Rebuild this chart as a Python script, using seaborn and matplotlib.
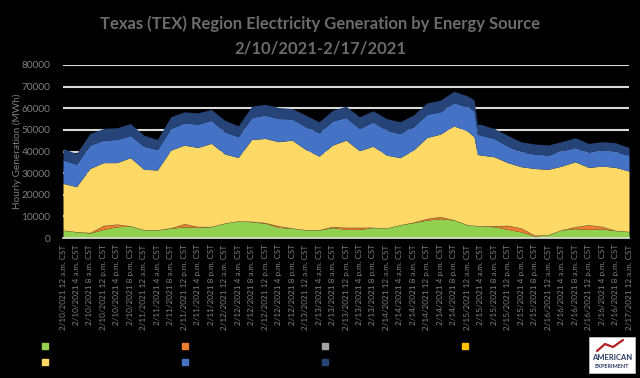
import matplotlib
matplotlib.use("Agg")
import matplotlib.pyplot as plt
from matplotlib.lines import Line2D
from matplotlib.patches import Rectangle
import seaborn as sns
import pandas as pd

# ---------------- data (MWh) ----------------
hours = [0, 4, 8, 12, 16, 20, 24, 28, 32, 36, 40, 44, 48, 52, 56, 60, 64, 68,
         72, 76, 80, 84, 88, 92, 96, 100, 104, 108, 112, 116, 120, 122, 123,
         124, 128, 132, 136, 140, 144, 148, 152, 156, 160, 164, 168]

wind = [3500, 2800, 2300, 4000, 5200, 5500, 3700, 3700, 4500, 5200, 4900, 5200,
        6800, 7800, 7500, 6800, 4900, 4500, 3700, 3700, 4800, 4000, 4000, 4800,
        4500, 6000, 7100, 8300, 8900, 8300, 6000, 5700, 5500, 5500, 5200, 4000,
        2800, 900, 1400, 3700, 4300, 4000, 4200, 3400, 2900]
solar = [0, 0, 100, 1700, 1100, 0, 0, 0, 100, 1300, 300, 0,
         0, 0, 100, 200, 600, 0, 0, 0, 400, 800, 800, 0,
         0, 0, 100, 600, 900, 0, 0, 0, 0, 0, 400, 1700,
         1700, 200, 0, 0, 800, 2000, 1000, 0, 0]
hydro = [100, 100, 100, 100, 100, 100, 100, 100, 100, 100, 100, 100,
         100, 100, 100, 100, 100, 100, 100, 100, 100, 100, 100, 100,
         100, 100, 100, 100, 100, 100, 100, 100, 100, 100, 100, 100,
         100, 100, 100, 100, 100, 100, 100, 100, 100]
other = [50, 50, 50, 50, 50, 50, 50, 50, 50, 50, 50, 50,
         50, 50, 50, 50, 50, 50, 50, 50, 50, 50, 50, 50,
         50, 50, 50, 50, 50, 50, 50, 50, 50, 50, 50, 50,
         50, 50, 50, 50, 50, 50, 50, 50, 50]
natural_gas = [21600, 20800, 29600, 29000, 28400, 31500, 27900, 27600, 35900,
               36300, 36500, 38400, 31900, 29300, 37800, 38900, 38900, 40600,
               37100, 34000, 37600, 40300, 35400, 37500, 33700, 31000, 33300,
               37400, 38100, 43400, 43300, 41000, 33000, 32700, 31800, 29000,
               28300, 30900, 30200, 29400, 30000, 26500, 27900, 29100, 27900]
coal = [10800, 10400, 10800, 10400, 10700, 10300, 10700, 9500, 10000, 10300,
        10800, 10700, 10300, 9600, 10200, 10800, 10700, 9800, 10500, 10800,
        11200, 10500, 10300, 11300, 11500, 11200, 10800, 10800, 10300, 10800,
        11200, 12000, 9400, 9200, 8500, 7600, 6900, 6700, 6600, 7100, 6600,
        6800, 7400, 7200, 7400]
nuclear = [5400, 4900, 5400, 5400, 5400, 5500, 5100, 4600, 5400, 5100, 5200,
           5000, 5300, 5000, 5200, 5000, 5100, 4800, 5400, 5100, 4900, 5200,
           5400, 5100, 5400, 5400, 5400, 5200, 5400, 5200, 5100, 5000, 4600,
           5000, 4600, 5000, 4600, 4600, 4700, 4200, 4500, 4300, 3900, 4200, 3500]

sources = ["wind", "solar", "hydro", "other", "natural gas", "coal", "nuclear"]
colors = ["#92D050", "#ED7D31", "#A5A5A5", "#FFC000", "#FFD966", "#4472C4", "#264478"]

day_labels = ["2/10/2021", "2/11/2021", "2/12/2021", "2/13/2021",
              "2/14/2021", "2/15/2021", "2/16/2021", "2/17/2021"]
time_labels = ["12 a.m.", "4 a.m.", "8 a.m.", "12 p.m.", "4 p.m.", "8 p.m."]

df = pd.DataFrame({"hour": hours, "wind": wind, "solar": solar, "hydro": hydro,
                   "other": other, "natural gas": natural_gas, "coal": coal,
                   "nuclear": nuclear})

# ---------------- style ----------------
sns.set_theme(style="white")
plt.rcParams["font.family"] = ["Lato", "DejaVu Sans"]
palette = sns.color_palette(colors)

fig = plt.figure(figsize=(6.4, 3.78), dpi=100, facecolor="black")
ax = fig.add_axes([63 / 640, 1 - 238 / 378, (629 - 63) / 640, (238 - 65) / 378])
ax.set_facecolor("black")

ax.stackplot(df["hour"], *[df[s] for s in sources], colors=palette,
             labels=sources, linewidth=0, zorder=3)

ax.set_xlim(0, 168)
ax.set_ylim(0, 80000)
ax.set_yticks(range(0, 80001, 10000))
ax.set_yticklabels([str(v) for v in range(0, 80001, 10000)])
ax.yaxis.grid(True, color="#d9d9d9", lw=1.5, zorder=1)
ax.set_axisbelow(True)

xt = list(range(0, 169, 4))
xl = []
for d in day_labels:
    for t in time_labels:
        xl.append(f"{d} {t} CST")
xl = xl[:len(xt)]
ax.set_xticks(xt)
ax.set_xticklabels(xl, rotation=90, fontsize=5.9, color="#7f7f7f")
ax.set_xticks(range(0, 169), minor=True)
ax.tick_params(axis="x", which="both", length=2.5, width=0.8, color="white",
               direction="out", pad=2)
ax.tick_params(axis="y", length=0, labelsize=7.3, labelcolor="#7f7f7f", pad=9)

sns.despine(ax=ax, left=True, top=True, right=True)
ax.spines["bottom"].set_color("#d9d9d9")
ax.spines["bottom"].set_linewidth(1.2)
ax.spines["bottom"].set_zorder(4)

ax.set_ylabel("Hourly Generation (MWh)", fontsize=7.2, color="#7f7f7f")
ax.yaxis.set_label_coords((22 - 63) / 566, 0.5)

fig.text(0.5, 1 - 24 / 378, "Texas (TEX) Region Electricity Generation by Energy Source",
         ha="center", va="center", fontsize=12, fontweight="bold", color="#6b6b6b")
fig.text(0.5, 1 - 48 / 378, "2/10/2021-2/17/2021",
         ha="center", va="center", fontsize=12, fontweight="bold", color="#6b6b6b")

# ---------------- legend (text is black on black, as in the original) ----------------
def handle(c):
    return Line2D([], [], marker="s", linestyle="none", markersize=5,
                  markerfacecolor=c, markeredgecolor=c)

cols = [[0, 4], [1, 5], [2, 6], [3]]
xpos = [47, 187, 327, 467]
for col, x in zip(cols, xpos):
    fig.legend([handle(colors[i]) for i in col], [sources[i] for i in col],
               loc="upper left", bbox_to_anchor=((x - 7) / 640, 1 - 342 / 378),
               frameon=False, fontsize=7, labelcolor="black",
               handlelength=1.0, handletextpad=0.4, labelspacing=0.75,
               borderpad=0, borderaxespad=0)

# ---------------- logo ----------------
fig.patches.append(Rectangle((589 / 640, 1 - 373 / 378), 46 / 640, 36 / 378,
                             transform=fig.transFigure, facecolor="white",
                             edgecolor="#cccccc", lw=0.5))
fig.add_artist(Line2D([597 / 640, 605 / 640, 613 / 640, 623 / 640],
                      [1 - 351 / 378, 1 - 344 / 378, 1 - 347 / 378, 1 - 340 / 378],
                      transform=fig.transFigure, color="#b22222", lw=1.6))
fig.text(612 / 640, 1 - 358 / 378, "AMERICAN", ha="center", va="center",
         fontsize=5.5, color="#2b3a67", fontweight="bold")
fig.text(612 / 640, 1 - 366 / 378, "EXPERIMENT", ha="center", va="center",
         fontsize=4, color="#2b3a67", fontweight="bold")

fig.savefig("out.png", dpi=100, facecolor="black")
